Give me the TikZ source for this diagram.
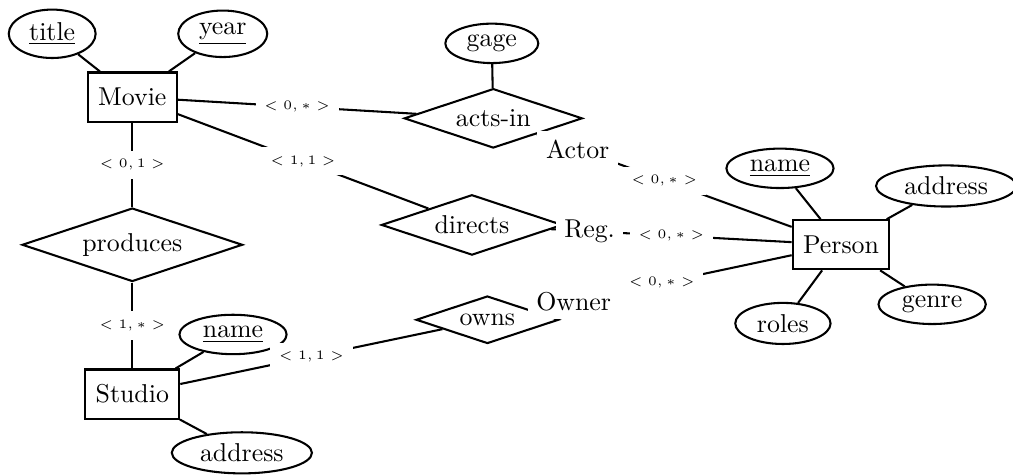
\documentclass[tikz,border=0pt]{standalone}
\usepackage{amsmath}
\usepackage{tikz}
\usetikzlibrary{shapes.geometric}

\begin{document}
\begin{tikzpicture}[thick,
        entity/.style = {shape = rectangle, draw = black, inner xsep = 4pt, minimum height = 19pt},
        attribute/.style = {shape = ellipse, draw = black, inner xsep = 3pt, inner ysep = 2.1pt},
        relation/.style = {shape = diamond, draw = black, aspect = 3, inner sep = 2.5pt},
        card/.style = {fill = white, font = \tiny, midway},
        role/.style = {fill = white, pos = 0.16}]
            \useasboundingbox (0, 0) rectangle (13.78, 6.45);

            \node [entity] (movie) at (1.80, 5.13) {Movie};
            \node [attribute] (title) at (0.71, 5.99) {\underline{title}};
            \node [attribute] (year) at (3.03, 5.99) {\underline{year}};
            \node [relation] (actsin) at (6.71, 4.84) {acts-in};
            \node [attribute] (gage) at (6.69, 5.86) {gage};
            \node [relation] (directs) at (6.42, 3.39) {directs};
            \node [relation] (produces) at (1.80, 3.12) {produces};
            \node [relation] (owns) at (6.63, 2.10) {owns};
            \node [entity] (studio) at (1.80, 1.09) {Studio};
            \node [attribute] (sname) at (3.17, 1.90) {\underline{name}};
            \node [attribute] (saddr) at (3.29, 0.29) {address};
            \node [entity] (person) at (11.44, 3.12) {Person};
            \node [attribute] (pname) at (10.61, 4.16) {\underline{name}};
            \node [attribute] (paddr) at (12.87, 3.92) {address};
            \node [attribute] (genre) at (12.68, 2.31) {genre};
            \node [attribute] (roles) at (10.65, 2.05) {roles};

            \draw (title) -- (movie);
            \draw (year) -- (movie);
            \draw (gage) -- (actsin);
            \draw (sname) -- (studio);
            \draw (saddr) -- (studio);
            \draw (pname) -- (person);
            \draw (paddr) -- (person);
            \draw (genre) -- (person);
            \draw (roles) -- (person);

            \draw (movie) -- (actsin) node [card] {$<0,*>$};
            \draw (movie) -- (directs) node [card] {$<1,1>$};
            \draw (movie) -- (produces) node [card] {$<0,1>$};
            \draw (produces) -- (studio) node [card] {$<1,*>$};
            \draw (studio) -- (owns) node [card] {$<1,1>$};
            \draw (actsin) -- (person) node [role] {Actor} node [card] {$<0,*>$};
            \draw (directs) -- (person) node [role] {Reg.} node [card] {$<0,*>$};
            \draw (owns) -- (person) node [role] {Owner} node [card] {$<0,*>$};
        \end{tikzpicture}
\end{document}
